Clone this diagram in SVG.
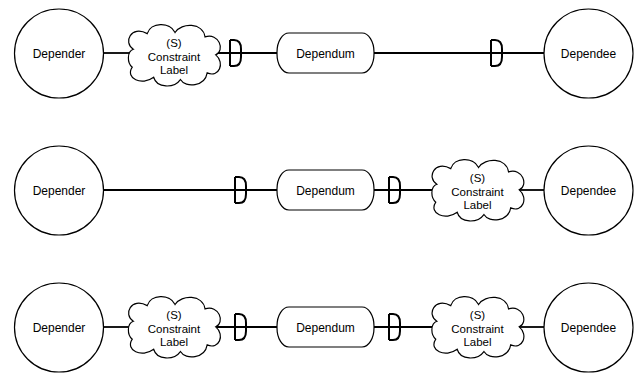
<svg xmlns="http://www.w3.org/2000/svg" xmlns:xlink="http://www.w3.org/1999/xlink" width="636" height="374" viewBox="0 0 636 374">
<style>
.actor{fill:#fff;stroke:#000;stroke-width:1.2}
.dum{fill:#fff;stroke:#000;stroke-width:1.2}
.cloud{fill:#fff;stroke:#000;stroke-width:1.1}
.conn{fill:none;stroke:#000;stroke-width:1.8}
.dmark{fill:none;stroke:#000;stroke-width:2}
text{font-family:"Liberation Sans",Arial,sans-serif;fill:#000;text-anchor:middle}
.lbl{font-size:12px}
.cl{font-size:11.5px}
</style>
<defs>
<path id="D" class="dmark" d="M0,-13 V13 M0,-13 H4 Q11,-13 11,-4 V4 Q11,13 4,13 H0"/>
<path id="cloudShape" transform="scale(1.07,1.12)" d="M-38,-6 C-48,-12 -40,-28 -25,-20 C-22,-30 -4,-31 1,-21 C7,-30 27,-30 29,-17 C42,-21 48,-5 39,-1 C48,6 42,20 31,15 C29,27 11,29 6,21 C0,29 -16,29 -19,19 C-30,27 -46,20 -39,10 C-44,6 -44,-4 -38,-6 Z"/>
</defs>

<g id="connectors">
  <!-- row 1 -->
  <line class="conn" x1="103.5" y1="53" x2="134" y2="53"/>
  <line class="conn" x1="214" y1="53" x2="277" y2="53"/>
  <line class="conn" x1="374" y1="53" x2="544" y2="53"/>
  <use xlink:href="#D" x="230" y="53"/>
  <use xlink:href="#D" x="491" y="53"/>
  <!-- row 2 -->
  <line class="conn" x1="103.5" y1="190" x2="277" y2="190"/>
  <line class="conn" x1="374" y1="190" x2="438" y2="190"/>
  <line class="conn" x1="518" y1="190" x2="544" y2="190"/>
  <use xlink:href="#D" x="235" y="190"/>
  <use xlink:href="#D" x="389" y="190"/>
  <!-- row 3 -->
  <line class="conn" x1="103.5" y1="327" x2="134" y2="327"/>
  <line class="conn" x1="214" y1="327" x2="277" y2="327"/>
  <line class="conn" x1="374" y1="327" x2="438" y2="327"/>
  <line class="conn" x1="518" y1="327" x2="544" y2="327"/>
  <use xlink:href="#D" x="235" y="327"/>
  <use xlink:href="#D" x="389" y="327"/>
</g>

<!-- Row 1 -->
<g id="depender1"><circle class="actor" cx="59" cy="53.5" r="44.5"/><text class="lbl" x="59" y="58">Depender</text></g>
<g id="constraint1"><use xlink:href="#cloudShape" class="cloud" x="174" y="56"/><text class="cl" x="174" y="47">(S)</text><text class="cl" x="174" y="60.5">Constraint</text><text class="cl" x="174" y="74">Label</text></g>
<g id="dependum1"><rect class="dum" x="277" y="33" width="97" height="40" rx="12" ry="19"/><text class="lbl" x="325.5" y="57.5">Dependum</text></g>
<g id="dependee1"><circle class="actor" cx="588.5" cy="53.5" r="44.5"/><text class="lbl" x="588.5" y="58">Dependee</text></g>

<!-- Row 2 -->
<g id="depender2"><circle class="actor" cx="59" cy="190.5" r="44.5"/><text class="lbl" x="59" y="195">Depender</text></g>
<g id="dependum2"><rect class="dum" x="277" y="170" width="97" height="40" rx="12" ry="19"/><text class="lbl" x="325.5" y="194.5">Dependum</text></g>
<g id="constraint2"><use xlink:href="#cloudShape" class="cloud" x="477.5" y="191"/><text class="cl" x="477.5" y="182">(S)</text><text class="cl" x="477.5" y="195.5">Constraint</text><text class="cl" x="477.5" y="209">Label</text></g>
<g id="dependee2"><circle class="actor" cx="588.5" cy="190.5" r="44.5"/><text class="lbl" x="588.5" y="195">Dependee</text></g>

<!-- Row 3 -->
<g id="depender3"><circle class="actor" cx="59" cy="327.5" r="44.5"/><text class="lbl" x="59" y="332">Depender</text></g>
<g id="constraint3"><use xlink:href="#cloudShape" class="cloud" x="174" y="328"/><text class="cl" x="174" y="319">(S)</text><text class="cl" x="174" y="332.5">Constraint</text><text class="cl" x="174" y="346">Label</text></g>
<g id="dependum3"><rect class="dum" x="277" y="307" width="97" height="40" rx="12" ry="19"/><text class="lbl" x="325.5" y="331.5">Dependum</text></g>
<g id="constraint4"><use xlink:href="#cloudShape" class="cloud" x="477.5" y="328"/><text class="cl" x="477.5" y="319">(S)</text><text class="cl" x="477.5" y="332.5">Constraint</text><text class="cl" x="477.5" y="346">Label</text></g>
<g id="dependee3"><circle class="actor" cx="588.5" cy="327.5" r="44.5"/><text class="lbl" x="588.5" y="332">Dependee</text></g>
</svg>
